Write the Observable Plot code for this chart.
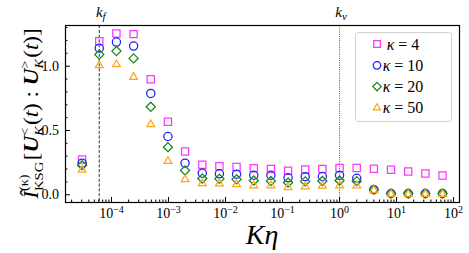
<!DOCTYPE html>
<html><head><meta charset="utf-8">
<script src="https://cdn.jsdelivr.net/npm/d3@7"></script>
<script src="https://cdn.jsdelivr.net/npm/@observablehq/plot@0.6"></script>
<style>
html,body{margin:0;padding:0;background:#fff;}
</style></head><body><div id="chart"></div>
<script>
// ---- data ----
const Keta = [3.05e-5, 6.10e-5, 1.22e-4, 2.44e-4, 4.88e-4, 9.77e-4, 1.95e-3, 3.91e-3, 7.81e-3, 1.56e-2, 3.13e-2, 6.25e-2, 0.125, 0.25, 0.5, 1, 2, 4, 8, 16, 32, 64];
const kappa4  = [0.274, 1.194, 1.254, 1.249, 0.899, 0.568, 0.337, 0.233, 0.222, 0.216, 0.207, 0.201, 0.186, 0.196, 0.201, 0.208, 0.209, 0.203, 0.194, 0.181, 0.166, 0.150];
const kappa10 = [0.246, 1.140, 1.187, 1.156, 0.788, 0.453, 0.246, 0.168, 0.163, 0.160, 0.152, 0.152, 0.132, 0.141, 0.142, 0.151, 0.128, 0.040, 0.010, 0.010, 0.010, 0.010];
const kappa20 = [0.230, 1.090, 1.117, 1.060, 0.684, 0.370, 0.189, 0.127, 0.124, 0.120, 0.111, 0.107, 0.095, 0.104, 0.107, 0.111, 0.106, 0.040, 0.010, 0.010, 0.010, 0.010];
const kappa50 = [0.194, 1.005, 1.013, 0.915, 0.547, 0.261, 0.119, 0.088, 0.086, 0.080, 0.072, 0.072, 0.058, 0.064, 0.069, 0.072, 0.072, 0.035, 0.005, 0.005, 0.005, 0.005];
const kappaLabels = ["4", "10", "20", "50"];
const kf = 6.1e-5;
const knu = 1;
const xMajorTicks = [1e-4, 1e-3, 1e-2, 1e-1, 1, 10, 100];
const yMajorTicks = [0, 0.5, 1.0];

// ---- styles ----
const FONT = "'Liberation Serif', 'Times New Roman', 'DejaVu Serif', serif";
const colors = ["#ff33ff", "#1f1fff", "#11881a", "#ffa51a"];
const symbols = ["square2", "circle", "diamond2", "triangle2"];
const radii = [4.6, 4.1, 4.1, 3.7];

const seriesValues = [kappa4, kappa10, kappa20, kappa50];
const seriesRows = seriesValues.map((vals, i) => vals.map((v, j) => ({K: Keta[j], I: v, kappa: kappaLabels[i]})));

const xMinor = [];
for (let e = -5; e <= 2; e++) for (let m = 2; m <= 9; m++) { const v = m * Math.pow(10, e); if (v > 1.56e-5 && v < 127) xMinor.push(v); }
const yMinor = [0.1, 0.2, 0.3, 0.4, 0.6, 0.7, 0.8, 0.9, 1.1, 1.2, 1.3];

const W = 469, H = 253, ML = 65, MR = 10, MT = 25, MB = 51;
const plot = Plot.plot({
  width: W, height: H,
  marginLeft: ML, marginRight: MR, marginTop: MT, marginBottom: MB,
  style: {fontFamily: FONT, fontSize: "14px", color: "#000", background: "#fff"},
  x: {type: "log", domain: [1.56e-5, 127]},
  y: {domain: [-0.06, 1.316]},
  marks: [
    Plot.ruleX([kf], {stroke: "#222", strokeWidth: 0.9, strokeDasharray: "3.2,1.6"}),
    Plot.ruleX([knu], {stroke: "#444", strokeWidth: 0.9, strokeDasharray: "1,1.2"}),
    ...seriesRows.map((rows, i) => Plot.dot(rows, {x: "K", y: "I", symbol: () => symbols[i], r: radii[i], stroke: colors[i], fill: "none", strokeWidth: 1.25})),
    Plot.axisX({ticks: xMajorTicks, tickSize: 0, tickPadding: 3, tickFormat: d => "10^" + Math.round(Math.log10(d)), label: null}),
    Plot.axisX({ticks: xMajorTicks, tickSize: -5, tickFormat: () => "", label: null}),
    Plot.axisX({ticks: xMinor, tickSize: -2.5, tickFormat: () => "", label: null}),
    Plot.axisY({ticks: yMajorTicks, tickSize: 0, tickPadding: 7, tickFormat: d3.format(".1f"), label: null, fontSize: 14}),
    Plot.axisY({ticks: yMajorTicks, tickSize: -5, tickFormat: () => "", label: null}),
    Plot.axisY({ticks: yMinor, tickSize: -2.5, tickFormat: () => "", label: null}),
    Plot.frame({stroke: "#000", strokeWidth: 1.2})
  ]
});
document.getElementById("chart").appendChild(plot);

const svg = d3.select(plot);
const xs = plot.scale("x");
svg.selectAll("text").attr("font-family", FONT);

// superscript exponents on x tick labels
svg.selectAll('g[aria-label="x-axis tick label"] text').each(function() {
  const s = this.textContent;
  if (!s.includes("^")) return;
  const [b, e] = s.split("^");
  const t = d3.select(this);
  t.text("");
  t.append("tspan").text(b).attr("font-size", 14);
  t.append("tspan").text(e.replace("-", "\u2212")).attr("font-size", 10).attr("dy", -5);
});

// place tick labels exactly: y labels end 7px left of frame, x labels top 4px below frame
const svgBox = plot.getBoundingClientRect();
svg.selectAll('g[aria-label="y-axis tick label"] text').each(function() {
  const r = this.getBoundingClientRect();
  const right = r.right - svgBox.left;
  const cur = +(this.getAttribute("dx") || 0);
  this.setAttribute("dx", 0);
  const r2 = this.getBoundingClientRect();
  const shift = (ML - 6) - (r2.right - svgBox.left);
  this.setAttribute("dx", shift);
});
svg.selectAll('g[aria-label="x-axis tick label"] text').each(function() {
  const r = this.getBoundingClientRect();
  const top = r.top - svgBox.top;
  const shift = (H - MB + 2) - top;
  const tr = this.getAttribute("transform") || "";
  this.setAttribute("transform", tr + ` translate(0,${shift})`);
});

function runs(textSel, items) {
  let shift = 0, prev = null;
  for (const it of items) {
    const ts = textSel.append("tspan").text(it.t).attr("font-size", it.size || 16);
    if (it.italic) ts.attr("font-style", "italic");
    if (it.bold) ts.attr("font-weight", "bold");
    const target = it.shift || 0;
    if (target !== shift) { ts.attr("dy", target - shift); shift = target; }
    let dx = it.dx || 0;
    if (it.stack && prev) dx -= prev.node().getComputedTextLength();
    if (dx) ts.attr("dx", dx);
    prev = ts;
  }
}

// y label
const ylCx = 38, ylCy = (25 + 202) / 2;
const yl = svg.append("text").attr("text-anchor", "middle").attr("fill", "#000").attr("font-family", FONT);
runs(yl, [
  {t: "\u00CE", italic: true, size: 18},
  {t: "(\u03BA)", size: 11, shift: -9},
  {t: "KSG", size: 11.5, shift: 4, stack: true},
  {t: "[", size: 18, shift: 0, dx: 1},
  {t: "U", italic: true, bold: true, size: 18},
  {t: "<", size: 11, shift: -8},
  {t: "K", italic: true, size: 11, shift: 4, stack: true},
  {t: "(", size: 18, shift: 0, dx: 1},
  {t: "t", italic: true, size: 18},
  {t: ") : ", size: 18},
  {t: "U", italic: true, bold: true, size: 18},
  {t: ">", size: 11, shift: -8},
  {t: "K", italic: true, size: 11, shift: 4, stack: true},
  {t: "(", size: 18, shift: 0, dx: 1},
  {t: "t", italic: true, size: 18},
  {t: ")]", size: 18}
]);
const ylLen = yl.node().getBBox().width;
const ylS = 172 / ylLen;
yl.attr("transform", `translate(${ylCx},${ylCy}) rotate(-90) scale(${ylS},${ylS * 0.88})`);

// x label
svg.append("text").attr("x", (65 + 459) / 2).attr("y", 244).attr("text-anchor", "middle").attr("font-size", 28).attr("font-style", "italic").attr("fill", "#000").attr("font-family", FONT).text("K\u03B7");

// k_f and k_nu annotations
const kfT = svg.append("text").attr("x", xs.apply(kf) + 2).attr("y", 17).attr("text-anchor", "middle").attr("fill", "#000").attr("font-family", FONT);
runs(kfT, [{t: "k", italic: true, size: 15}, {t: "f", italic: true, size: 11, shift: 3}]);
const knT = svg.append("text").attr("x", xs.apply(knu) + 2).attr("y", 17).attr("text-anchor", "middle").attr("fill", "#000").attr("font-family", FONT);
runs(knT, [{t: "k", italic: true, size: 15}, {t: "\u03BD", italic: true, size: 11, shift: 3}]);

// legend
const lg = svg.append("g");
lg.append("rect").attr("x", 355.5).attr("y", 32.5).attr("width", 96).attr("height", 89).attr("rx", 3).attr("fill", "#fff").attr("fill-opacity", 0.85).attr("stroke", "#d0d0d0").attr("stroke-width", 1);
const symMap = {square2: d3.symbolSquare2, circle: d3.symbolCircle, diamond2: d3.symbolDiamond2, triangle2: d3.symbolTriangle2};
kappaLabels.forEach((k, i) => {
  const yy = 44 + i * 21.3;
  lg.append("path").attr("transform", `translate(377,${yy})`).attr("d", d3.symbol(symMap[symbols[i]], Math.PI * radii[i] * radii[i] * 0.85)()).attr("fill", "none").attr("stroke", colors[i]).attr("stroke-width", 1.25);
  const t = lg.append("text").attr("x", 403).attr("y", yy + 5.5).attr("fill", "#000").attr("font-family", FONT);
  runs(t, [{t: "\u03BA", italic: true, size: 16}, {t: " = " + k, size: 16}]);
});
</script></body></html>
